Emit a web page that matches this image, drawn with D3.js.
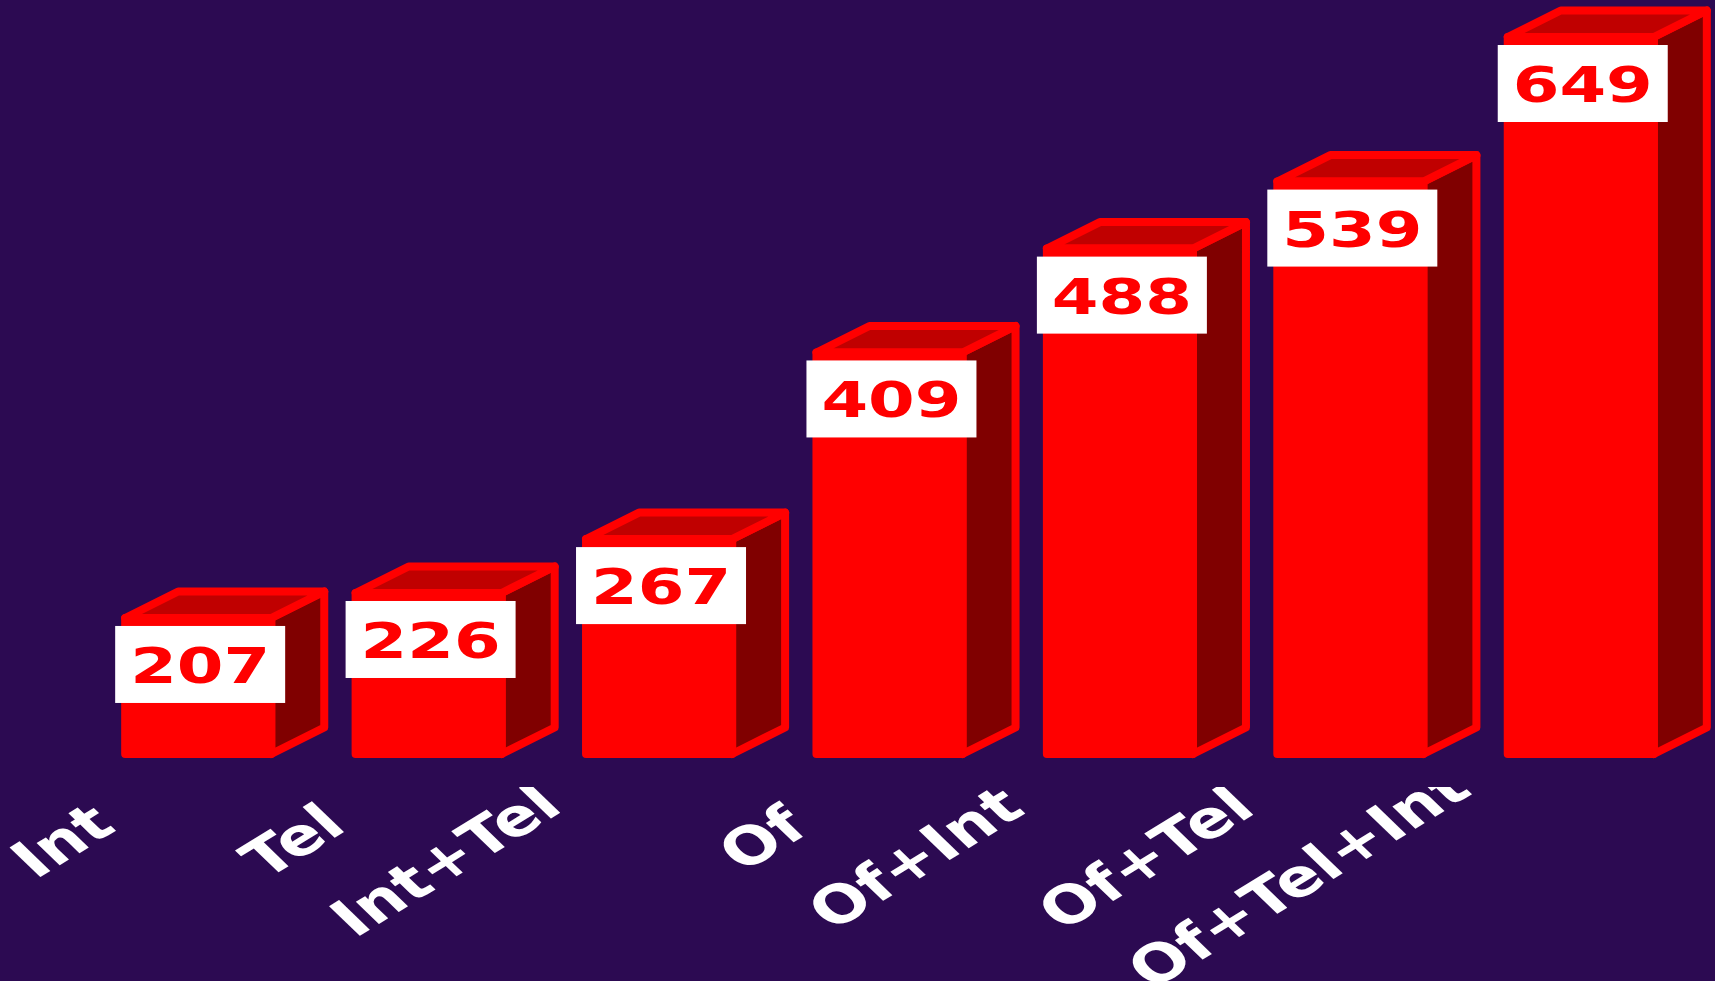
<!DOCTYPE html>
<html lang="en">
<head>
<meta charset="utf-8">
<script src="https://d3js.org/d3.v7.min.js"></script>
<style>
  body { margin: 0; background: #2c0a52; }
  svg { display: block; }
  .cat { font-family: "DejaVu Sans", sans-serif; font-weight: bold; fill: #fff; }
  .val { font-family: "DejaVu Sans", sans-serif; font-weight: bold; fill: #ff0000; }
</style>
</head>
<body>
<svg width="1715" height="981"></svg>
<script>
// data
var categories = ["Int", "Tel", "Int+Tel", "Of", "Of+Int", "Of+Tel", "Of+Tel+Int"];
var values = [207, 226, 267, 409, 488, 539, 649];

var W = 1715, H = 981;
var depthX = 53, depthY = 26.5;   // 3d offset of the boxes
var stretch = 1.3;                // labels are drawn wide

var svg = d3.select("svg");
svg.append("rect").attr("width", W).attr("height", H).attr("fill", "#2c0a52");

var x = d3.scaleBand()
    .domain(categories)
    .range([83, 1696])
    .paddingInner(0.366)
    .paddingOuter(0.183);

// axis starts at half the smallest value
var y = d3.scaleLinear()
    .domain([d3.min(values) * 0.5, d3.max(values)])
    .range([754, 37]);

var rows = categories.map(function(c, i) { return {cat: c, value: values[i]}; });
var bw = x.bandwidth();
var base = y.range()[0];

var bars = svg.append("g").selectAll("g")
    .data(rows)
    .enter().append("g")
    .attr("stroke", "#ff0000")
    .attr("stroke-width", 8)
    .attr("stroke-linejoin", "round");

// side face
bars.append("path")
    .attr("fill", "#800000")
    .attr("d", function(d) {
      var x0 = x(d.cat) + bw, yt = y(d.value);
      return "M" + x0 + "," + yt + "L" + (x0 + depthX) + "," + (yt - depthY) +
        "L" + (x0 + depthX) + "," + (base - depthY) + "L" + x0 + "," + base + "Z";
    });

// top face
bars.append("path")
    .attr("fill", "#c00000")
    .attr("d", function(d) {
      var x0 = x(d.cat), yt = y(d.value);
      return "M" + x0 + "," + yt + "L" + (x0 + bw) + "," + yt +
        "L" + (x0 + bw + depthX) + "," + (yt - depthY) +
        "L" + (x0 + depthX) + "," + (yt - depthY) + "Z";
    });

// front face
bars.append("rect")
    .attr("fill", "#ff0000")
    .attr("x", function(d) { return x(d.cat); })
    .attr("y", function(d) { return y(d.value); })
    .attr("width", bw)
    .attr("height", function(d) { return base - y(d.value); });

// value boxes
var boxW = 170, boxH = 77;
var vals = svg.append("g").selectAll("g")
    .data(rows)
    .enter().append("g")
    .attr("transform", function(d) {
      return "translate(" + (x(d.cat) - 10) + "," + (y(d.value) + 8) + ")";
    });

vals.append("rect")
    .attr("width", boxW)
    .attr("height", boxH)
    .attr("fill", "#fff");

vals.append("text")
    .attr("class", "val")
    .attr("font-size", 49)
    .attr("text-anchor", "middle")
    .attr("transform", "translate(" + (boxW / 2) + ",57) scale(1.37,1)")
    .text(function(d) { return d.value; });

// category labels, rotated and stretched, clipped to the label strip
svg.append("clipPath").attr("id", "labelClip")
  .append("rect")
    .attr("x", 0).attr("y", 787)
    .attr("width", W).attr("height", H - 787);

var labels = svg.append("g")
    .attr("clip-path", "url(#labelClip)")
  .selectAll("text")
    .data(rows)
    .enter().append("text")
    .attr("class", "cat")
    .attr("font-size", 52)
    .attr("text-anchor", "end")
    .text(function(d) { return d.cat; });

labels.attr("transform", function(d) {
  var u = this.getComputedTextLength();
  var ex = x(d.cat) + 2 - 0.113 * u;
  var ey = 842 - 0.155 * u;
  return "translate(" + ex + "," + ey + ") scale(" + stretch + ",1) rotate(-38.6)";
});
</script>
</body>
</html>
